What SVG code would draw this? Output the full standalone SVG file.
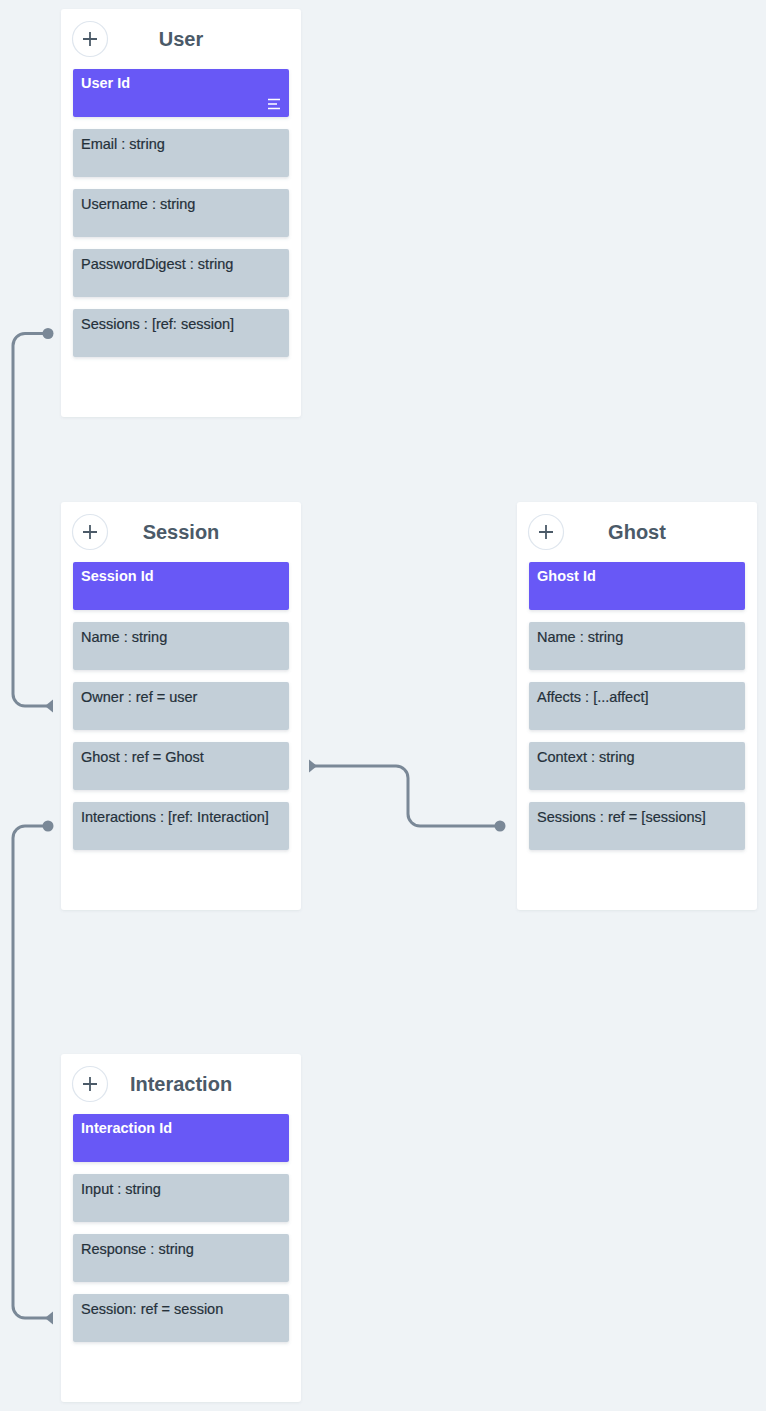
<svg xmlns="http://www.w3.org/2000/svg" width="766" height="1411" viewBox="0 0 766 1411">
<defs>
<filter id="sh" x="-10%" y="-20%" width="120%" height="150%">
<feDropShadow dx="0" dy="1.5" stdDeviation="1.5" flood-color="#5a6b7a" flood-opacity="0.18"/>
</filter>
<filter id="csh" x="-10%" y="-10%" width="120%" height="120%">
<feDropShadow dx="0" dy="1" stdDeviation="1.2" flood-color="#5a6b7a" flood-opacity="0.10"/>
</filter>
</defs>
<style>
.card{fill:#ffffff;filter:url(#csh)}
.pk{fill:#6858f6;filter:url(#sh)}
.fld{fill:#c3cfd8;filter:url(#sh)}
.title{font-family:"Liberation Sans",Arial,sans-serif;font-size:20px;font-weight:bold;fill:#4b5a68;text-anchor:middle}
.pkt{font-family:"Liberation Sans",Arial,sans-serif;font-size:14.5px;font-weight:bold;fill:#ffffff}
.ft{font-family:"Liberation Sans",Arial,sans-serif;font-size:14.5px;fill:#25313b;stroke:#25313b;stroke-width:0.2}
.addc{fill:#ffffff;stroke:#dfe6ee;stroke-width:1.2}
.addp{stroke:#4b5a68;stroke-width:1.8;fill:none;stroke-linecap:butt}
.conn{fill:none;stroke:#7a8897;stroke-width:3}
.cap{fill:#7a8897}
.ic{stroke:#ffffff;stroke-width:1.6}
</style>
<rect width="766" height="1411" fill="#eff3f6"/>

<g id="connectors">
<path class="conn" d="M48,333.5 H25 A12,12 0 0 0 13,345.5 V694 A12,12 0 0 0 25,706 H47"/>
<circle class="cap" cx="48" cy="333.5" r="5.5"/>
<polygon class="cap" points="53,699.5 53,712.5 45,706"/>

<path class="conn" d="M314,766 H396 A12,12 0 0 1 408,778 V814 A12,12 0 0 0 420,826 H499"/>
<circle class="cap" cx="500" cy="826" r="5.5"/>
<polygon class="cap" points="309,759.5 309,772.5 317,766"/>

<path class="conn" d="M48,826 H25 A12,12 0 0 0 13,838 V1306 A12,12 0 0 0 25,1318 H47"/>
<circle class="cap" cx="48" cy="826" r="5.5"/>
<polygon class="cap" points="53,1311.5 53,1324.5 45,1318"/>
</g>

<g id="user">
<rect class="card" x="61" y="9" width="240" height="408" rx="3"/>
<circle class="addc" cx="90" cy="39" r="17.5"/>
<path class="addp" d="M83,39 H97 M90,32 V46"/>
<text class="title" x="181" y="46">User</text>
<rect class="pk" x="73" y="69" width="216" height="48" rx="2"/>
<text class="pkt" x="81" y="88">User Id</text>
<path class="ic" d="M268,99.5 H280 M268,104 H277 M268,108.5 H280"/>
<rect class="fld" x="73" y="129" width="216" height="48" rx="2"/>
<text class="ft" x="81" y="148.5">Email : string</text>
<rect class="fld" x="73" y="189" width="216" height="48" rx="2"/>
<text class="ft" x="81" y="208.5">Username : string</text>
<rect class="fld" x="73" y="249" width="216" height="48" rx="2"/>
<text class="ft" x="81" y="268.5">PasswordDigest : string</text>
<rect class="fld" x="73" y="309" width="216" height="48" rx="2"/>
<text class="ft" x="81" y="328.5">Sessions : [ref: session]</text>
</g>

<g id="session">
<rect class="card" x="61" y="502" width="240" height="408" rx="3"/>
<circle class="addc" cx="90" cy="532" r="17.5"/>
<path class="addp" d="M83,532 H97 M90,525 V539"/>
<text class="title" x="181" y="539">Session</text>
<rect class="pk" x="73" y="562" width="216" height="48" rx="2"/>
<text class="pkt" x="81" y="581">Session Id</text>
<rect class="fld" x="73" y="622" width="216" height="48" rx="2"/>
<text class="ft" x="81" y="641.5">Name : string</text>
<rect class="fld" x="73" y="682" width="216" height="48" rx="2"/>
<text class="ft" x="81" y="701.5">Owner : ref = user</text>
<rect class="fld" x="73" y="742" width="216" height="48" rx="2"/>
<text class="ft" x="81" y="761.5">Ghost : ref = Ghost</text>
<rect class="fld" x="73" y="802" width="216" height="48" rx="2"/>
<text class="ft" x="81" y="821.5">Interactions : [ref: Interaction]</text>
</g>

<g id="ghost">
<rect class="card" x="517" y="502" width="240" height="408" rx="3"/>
<circle class="addc" cx="546" cy="532" r="17.5"/>
<path class="addp" d="M539,532 H553 M546,525 V539"/>
<text class="title" x="637" y="539">Ghost</text>
<rect class="pk" x="529" y="562" width="216" height="48" rx="2"/>
<text class="pkt" x="537" y="581">Ghost Id</text>
<rect class="fld" x="529" y="622" width="216" height="48" rx="2"/>
<text class="ft" x="537" y="641.5">Name : string</text>
<rect class="fld" x="529" y="682" width="216" height="48" rx="2"/>
<text class="ft" x="537" y="701.5">Affects : [...affect]</text>
<rect class="fld" x="529" y="742" width="216" height="48" rx="2"/>
<text class="ft" x="537" y="761.5">Context : string</text>
<rect class="fld" x="529" y="802" width="216" height="48" rx="2"/>
<text class="ft" x="537" y="821.5">Sessions : ref = [sessions]</text>
</g>

<g id="interaction">
<rect class="card" x="61" y="1054" width="240" height="348" rx="3"/>
<circle class="addc" cx="90" cy="1084" r="17.5"/>
<path class="addp" d="M83,1084 H97 M90,1077 V1091"/>
<text class="title" x="181" y="1091">Interaction</text>
<rect class="pk" x="73" y="1114" width="216" height="48" rx="2"/>
<text class="pkt" x="81" y="1133">Interaction Id</text>
<rect class="fld" x="73" y="1174" width="216" height="48" rx="2"/>
<text class="ft" x="81" y="1193.5">Input : string</text>
<rect class="fld" x="73" y="1234" width="216" height="48" rx="2"/>
<text class="ft" x="81" y="1253.5">Response : string</text>
<rect class="fld" x="73" y="1294" width="216" height="48" rx="2"/>
<text class="ft" x="81" y="1313.5">Session: ref = session</text>
</g>
</svg>
